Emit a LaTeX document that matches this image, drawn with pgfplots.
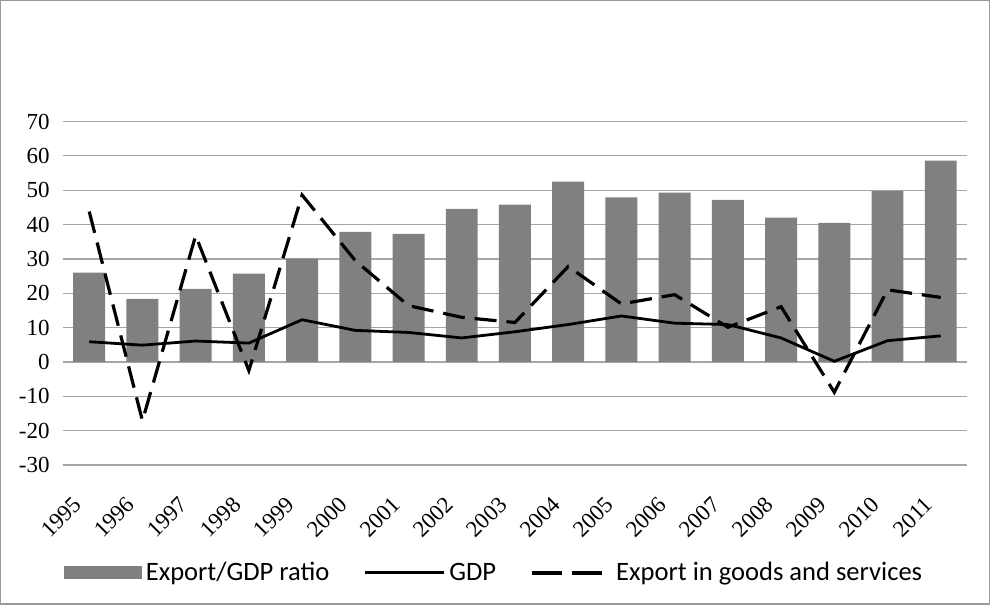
\documentclass[border=0pt]{standalone}
\usepackage{fontspec}
\setmainfont{Liberation Serif}
\newfontfamily\calibri{Carlito}
\usepackage{pgfplots}
\pgfplotsset{compat=1.18}
\definecolor{barg}{HTML}{808080}
\definecolor{gridg}{HTML}{A6A6A6}

% year index, Export/GDP ratio, GDP, Export in goods and services
\pgfplotstableread{
x  ratio gdp  exp
0  26.0  5.9  43.8
1  18.4  4.9 -17.1
2  21.3  6.1  36.8
3  25.7  5.5  -2.5
4  30.1 12.3  48.6
5  37.9  9.2  29.5
6  37.3  8.6  16.4
7  44.6  7.0  13.0
8  45.8  8.8  11.5
9  52.5 10.9  27.8
10 47.9 13.4  16.9
11 49.3 11.3  19.6
12 47.2 10.9  10.1
13 42.0  7.0  16.1
14 40.5  0.2  -8.8
15 49.8  6.2  21.0
16 58.6  7.6  18.8
}\datatable

\begin{document}
\begin{tikzpicture}
\begin{axis}[
  name=ax,
  scale only axis,
  width=453pt, height=172pt,
  xmin=-0.5, xmax=16.5,
  ymin=-30, ymax=70,
  ytick={-30,-20,...,70},
  xtick={0,...,16},
  xticklabels={1995,1996,1997,1998,1999,2000,2001,2002,2003,2004,2005,2006,2007,2008,2009,2010,2011},
  xticklabel style={xshift=-3.5pt, yshift=-15.5pt, rotate=45, anchor=east,
    font=\fontsize{11.5}{13}\selectfont},
  yticklabel style={font=\fontsize{11.5}{13}\selectfont, xshift=-3pt},
  /pgf/number format/assume math mode=true,
  axis line style={draw=none},
  major tick length=0pt,
  ymajorgrids,
  grid style={gridg, line width=0.6pt},
  legend style={draw=none, at={(0.478,-0.314)}, anchor=center,
    font=\calibri\fontsize{13.3}{15}\selectfont, legend columns=3,
    /tikz/every even column/.append style={column sep=15pt}},
  legend cell align=left,
]
\addplot[ybar, bar width=16pt, fill=barg, draw=none,
  legend image code/.code={\fill[barg] (0pt,-3.3pt) rectangle (39pt,3.3pt);}]
  table[x=x, y=ratio] {\datatable};
\addlegendentry{Export/GDP ratio}
\addplot[black, line width=1.4pt,
  legend image code/.code={\draw[black, line width=1.5pt] (0pt,0pt) -- (39.5pt,0pt);}]
  table[x=x, y=gdp] {\datatable};
\addlegendentry{GDP}
\addplot[black, line width=1.6pt, dash pattern=on 11pt off 5pt,
  legend image code/.code={\draw[black, line width=1.6pt, dash pattern=on 15pt off 5pt] (0pt,0pt) -- (39.5pt,0pt);}]
  table[x=x, y=exp] {\datatable};
\addlegendentry{Export in goods and services}
\end{axis}
\draw[gray!80, line width=0.7pt]
  ([xshift=-31pt,yshift=-69.5pt]ax.south west) rectangle ([xshift=11pt,yshift=60.5pt]ax.north east);
\end{tikzpicture}
\end{document}
